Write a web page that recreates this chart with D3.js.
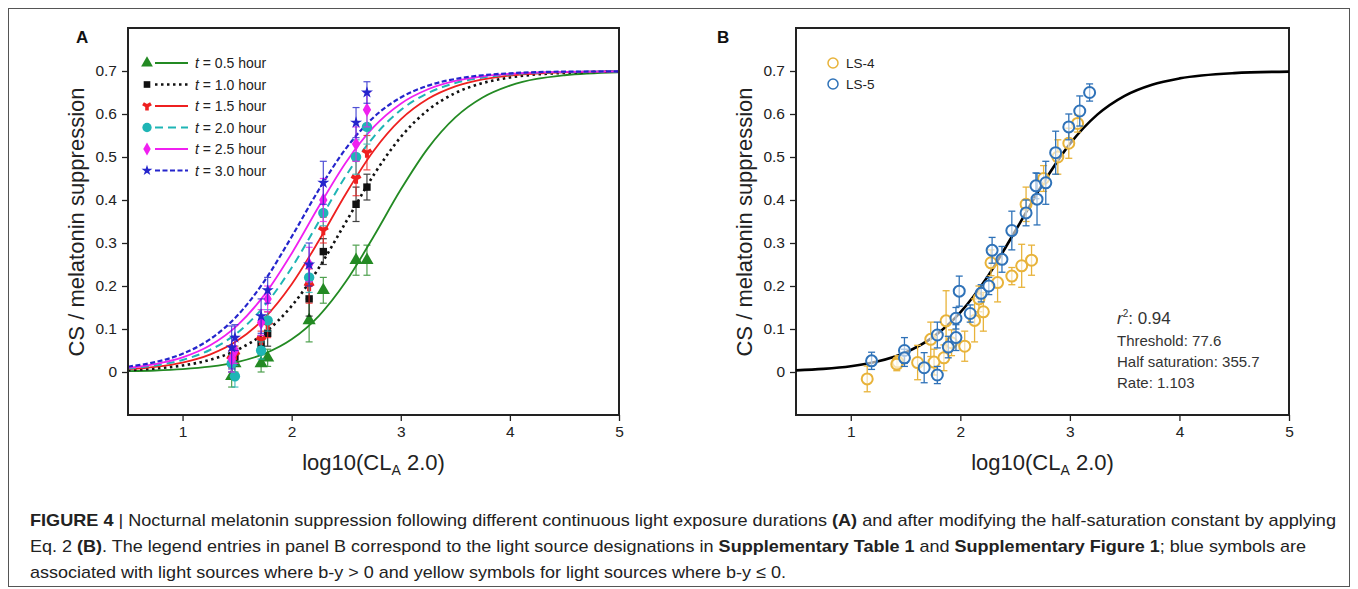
<html>
<head>
<meta charset="utf-8" />
<title>Figure 4 - melatonin suppression</title>
<script src="https://cdn.jsdelivr.net/npm/d3@7"></script>
<style>
  body { margin: 0; background: #fff; }
  text { font-family: "Liberation Sans", Arial, sans-serif; }
  .cap { font-family: "Liberation Sans Narrow", "Arial Narrow", "Liberation Sans", sans-serif; }
</style>
</head>
<body>
<script>

// ---- panel A : data points (same x positions for every exposure duration)
var ptX = [1.45, 1.48, 1.72, 1.78, 2.16, 2.29, 2.59, 2.69];
var durations = ["0.5", "1.0", "1.5", "2.0", "2.5", "3.0"];
var ptY = [
  [-0.01, 0.02, 0.02, 0.033, 0.12, 0.19, 0.26, 0.26],
  [0.02, 0.035, 0.065, 0.09, 0.17, 0.28, 0.39, 0.43],
  [0.03, 0.04, 0.075, 0.11, 0.20, 0.33, 0.45, 0.51],
  [0.02, -0.01, 0.05, 0.12, 0.22, 0.37, 0.50, 0.57],
  [0.03, 0.05, 0.115, 0.17, 0.25, 0.40, 0.53, 0.61],
  [0.057, 0.08, 0.13, 0.19, 0.25, 0.44, 0.58, 0.65]
];
var ptErr = [
  [0.025, 0.02, 0.02, 0.02, 0.05, 0.03, 0.035, 0.035],
  [0.02, 0.02, 0.02, 0.03, 0.04, 0.03, 0.04, 0.03],
  [0.02, 0.02, 0.02, 0.03, 0.04, 0.03, 0.04, 0.04],
  [0.02, 0.025, 0.02, 0.025, 0.035, 0.03, 0.04, 0.04],
  [0.03, 0.03, 0.03, 0.03, 0.04, 0.05, 0.04, 0.04],
  [0.05, 0.03, 0.04, 0.03, 0.05, 0.05, 0.035, 0.025]
];

// ---- fitted curves, read along the x grid
var curveX = [0.5, 0.75, 1, 1.25, 1.5, 1.75, 2, 2.25, 2.5, 2.75, 3, 3.25, 3.5, 3.75, 4, 4.5, 5];
var curveA = [
  [0.002, 0.0035, 0.0067, 0.0125, 0.0231, 0.0424, 0.0759, 0.1306, 0.2114, 0.3146, 0.4243, 0.5207, 0.592, 0.6383, 0.6659, 0.6901, 0.6972],
  [0.0043, 0.0081, 0.0152, 0.0281, 0.0512, 0.0907, 0.1536, 0.2425, 0.35, 0.4575, 0.5464, 0.6093, 0.6488, 0.6719, 0.6848, 0.6957, 0.6988],
  [0.0063, 0.0118, 0.022, 0.0404, 0.0725, 0.1253, 0.204, 0.3058, 0.4159, 0.5139, 0.5873, 0.6353, 0.6642, 0.6805, 0.6895, 0.697, 0.699],
  [0.0081, 0.0152, 0.0281, 0.0512, 0.0907, 0.1536, 0.2425, 0.35, 0.4575, 0.5464, 0.6093, 0.6488, 0.6719, 0.6848, 0.6919, 0.6977, 0.699],
  [0.0099, 0.0185, 0.0341, 0.0617, 0.108, 0.1793, 0.2757, 0.3854, 0.4886, 0.5694, 0.6241, 0.6576, 0.6769, 0.6875, 0.6933, 0.6981, 0.699],
  [0.0125, 0.0231, 0.0424, 0.0759, 0.1306, 0.2114, 0.3146, 0.4243, 0.5207, 0.592, 0.6383, 0.6659, 0.6815, 0.6901, 0.6947, 0.6985, 0.699]
];
var curveB = [0.0038, 0.0072, 0.0134, 0.0248, 0.0454, 0.081, 0.1386, 0.2224, 0.3274, 0.4365, 0.5304, 0.5985, 0.6423, 0.6682, 0.6828, 0.6951, 0.6986];

// ---- panel B : light sources
var ls4X = [1.15, 1.43, 1.42, 1.61, 1.73, 1.76, 1.87, 1.85, 1.92, 2.04, 2.13, 2.21, 2.17, 2.28, 2.34, 2.47, 2.56, 2.65, 2.60, 2.76, 2.89, 2.99, 3.07];
var ls4Y = [-0.016, 0.023, 0.018, 0.022, 0.076, 0.023, 0.119, 0.033, 0.068, 0.06, 0.12, 0.14, 0.17, 0.254, 0.208, 0.223, 0.247, 0.26, 0.39, 0.45, 0.50, 0.532, 0.578];
var ls4E = [0.03, 0.015, 0.015, 0.04, 0.04, 0.03, 0.07, 0.03, 0.03, 0.035, 0.05, 0.045, 0.03, 0.03, 0.045, 0.02, 0.05, 0.035, 0.04, 0.03, 0.04, 0.035, 0.02];
var ls5X = [1.19, 1.49, 1.49, 1.67, 1.79, 1.79, 1.89, 1.96, 1.96, 1.99, 2.09, 2.19, 2.26, 2.29, 2.38, 2.47, 2.60, 2.69, 2.70, 2.78, 2.87, 2.99, 3.09, 3.18];
var ls5Y = [0.026, 0.05, 0.033, 0.01, 0.086, -0.007, 0.058, 0.125, 0.08, 0.188, 0.136, 0.183, 0.20, 0.283, 0.262, 0.329, 0.37, 0.433, 0.402, 0.44, 0.51, 0.57, 0.607, 0.65];
var ls5E = [0.02, 0.03, 0.02, 0.035, 0.03, 0.02, 0.025, 0.025, 0.03, 0.035, 0.02, 0.02, 0.02, 0.03, 0.03, 0.045, 0.03, 0.03, 0.06, 0.05, 0.05, 0.03, 0.035, 0.02];

var xTicks = [1, 2, 3, 4, 5];
var yTicks = [0, 0.1, 0.2, 0.3, 0.4, 0.5, 0.6, 0.7];

var colorsA = ["#238a23", "#111111", "#ee2020", "#1fb5b5", "#f020f0", "#2525cc"];
var dashA = [null, "2.5,3.5", null, "8,5", null, "5,2.5"];
var widthA = [1.8, 2.6, 1.8, 2, 1.8, 2.2];
var symA = [d3.symbolTriangle, d3.symbolSquare, d3.symbolWye, d3.symbolCircle, d3.symbolDiamond, d3.symbolStar];
var sizeA = [75, 55, 55, 85, 60, 45];

var svg = d3.select("body").append("svg")
  .attr("width", 1358).attr("height", 589);

svg.append("rect").attr("x", 8.5).attr("y", 8.5).attr("width", 1341).attr("height", 578)
  .attr("fill", "#fff").attr("stroke", "#555").attr("stroke-width", 1);

var yScale = d3.scaleLinear().domain([-0.1, 0.8]).range([415, 28]);

function makePanel(left, right, letter, letterX) {
  var x = d3.scaleLinear().domain([0.5, 5]).range([left, right]);
  var g = svg.append("g");

  var ax = g.append("g").attr("transform", "translate(0,415)")
    .call(d3.axisBottom(x).tickValues(xTicks).tickFormat(d3.format("d")).tickSize(6).tickSizeOuter(0).tickPadding(5));
  var ay = g.append("g").attr("transform", "translate(" + left + ",0)")
    .call(d3.axisLeft(yScale).tickValues(yTicks).tickFormat(function(d) { return d === 0 ? "0" : d3.format(".1f")(d); }).tickSize(6).tickSizeOuter(0).tickPadding(5));
  [ax, ay].forEach(function(a) {
    a.select(".domain").remove();
    a.selectAll("line").attr("stroke", "#222").attr("stroke-width", 1.3);
    a.selectAll("text").attr("font-size", 15.5).attr("fill", "#222").attr("font-family", "Liberation Sans, Arial, sans-serif");
  });

  g.append("rect").attr("x", left).attr("y", 28).attr("width", right - left).attr("height", 387)
    .attr("fill", "none").attr("stroke", "#222").attr("stroke-width", 2);

  var xl = g.append("text").attr("x", (left + right) / 2).attr("y", 470)
    .attr("text-anchor", "middle").attr("font-size", 22).attr("fill", "#222");
  xl.append("tspan").text("log10(CL");
  xl.append("tspan").attr("font-size", 14).attr("dy", 5).text("A");
  xl.append("tspan").attr("dy", -5).text(" 2.0)");

  g.append("text").attr("transform", "translate(" + (left - 44) + ",222) rotate(-90)")
    .attr("text-anchor", "middle").attr("font-size", 22).attr("fill", "#222")
    .text("CS / melatonin suppression");

  g.append("text").attr("x", letterX).attr("y", 43).attr("font-size", 17)
    .attr("font-weight", "bold").attr("fill", "#111").text(letter);

  return { g: g, x: x };
}

// ---------- panel A
var A = makePanel(128, 619, "A", 76);

var clipA = svg.append("clipPath").attr("id", "clipA");
clipA.append("rect").attr("x", 129).attr("y", 29).attr("width", 489).attr("height", 385);

durations.forEach(function(dur, i) {
  var line = d3.line()
    .x(function(d, j) { return A.x(curveX[j]); })
    .y(function(d) { return yScale(d); })
    .curve(d3.curveMonotoneX);
  A.g.append("path").datum(curveA[i])
    .attr("clip-path", "url(#clipA)")
    .attr("fill", "none").attr("stroke", colorsA[i])
    .attr("stroke-width", widthA[i])
    .attr("stroke-dasharray", dashA[i])
    .attr("d", line);
});

durations.forEach(function(dur, i) {
  var pts = ptX.map(function(xv, j) { return { x: xv, y: ptY[i][j], e: ptErr[i][j] }; });
  var eg = A.g.append("g").attr("stroke", colorsA[i]).attr("stroke-width", 1.2).attr("opacity", 0.8);
  pts.forEach(function(p) {
    var px = A.x(p.x), y1 = yScale(p.y - p.e), y2 = yScale(p.y + p.e);
    eg.append("line").attr("x1", px).attr("x2", px).attr("y1", y1).attr("y2", y2);
    eg.append("line").attr("x1", px - 3.5).attr("x2", px + 3.5).attr("y1", y1).attr("y2", y1);
    eg.append("line").attr("x1", px - 3.5).attr("x2", px + 3.5).attr("y1", y2).attr("y2", y2);
  });
  A.g.append("g").selectAll("path").data(pts).join("path")
    .attr("transform", function(p) { return "translate(" + A.x(p.x) + "," + yScale(p.y) + ")"; })
    .attr("d", d3.symbol().type(symA[i]).size(sizeA[i]))
    .attr("fill", colorsA[i]);
});

// legend A
var legA = A.g.append("g");
durations.forEach(function(dur, i) {
  var ly = 63 + i * 21.5;
  legA.append("line").attr("x1", 155).attr("x2", 188).attr("y1", ly).attr("y2", ly)
    .attr("stroke", colorsA[i]).attr("stroke-width", widthA[i]).attr("stroke-dasharray", dashA[i]);
  legA.append("path").attr("transform", "translate(147," + ly + ")")
    .attr("d", d3.symbol().type(symA[i]).size(sizeA[i] * 0.8)).attr("fill", colorsA[i]);
  var t = legA.append("text").attr("x", 195).attr("y", ly + 5).attr("font-size", 14).attr("fill", "#222");
  t.append("tspan").attr("font-style", "italic").text("t");
  t.append("tspan").text(" = " + dur + " hour");
});

// ---------- panel B
var B = makePanel(796, 1289, "B", 717);

var lineB = d3.line()
  .x(function(d, j) { return B.x(curveX[j]); })
  .y(function(d) { return yScale(d); })
  .curve(d3.curveMonotoneX);
B.g.append("path").datum(curveB).attr("fill", "none").attr("stroke", "#000")
  .attr("stroke-width", 2.6).attr("d", lineB);

function drawSource(xs, ys, es, color) {
  var pts = xs.map(function(xv, j) { return { x: xv, y: ys[j], e: es[j] }; });
  var eg = B.g.append("g").attr("stroke", color).attr("stroke-width", 1.3);
  pts.forEach(function(p) {
    var px = B.x(p.x), y1 = yScale(p.y - p.e), y2 = yScale(p.y + p.e);
    eg.append("line").attr("x1", px).attr("x2", px).attr("y1", y1).attr("y2", y2);
    eg.append("line").attr("x1", px - 3.5).attr("x2", px + 3.5).attr("y1", y1).attr("y2", y1);
    eg.append("line").attr("x1", px - 3.5).attr("x2", px + 3.5).attr("y1", y2).attr("y2", y2);
  });
  B.g.append("g").selectAll("circle").data(pts).join("circle")
    .attr("cx", function(p) { return B.x(p.x); })
    .attr("cy", function(p) { return yScale(p.y); })
    .attr("r", 5.5).attr("fill", "#fff").attr("fill-opacity", 0.6)
    .attr("stroke", color).attr("stroke-width", 2);
}
drawSource(ls4X, ls4Y, ls4E, "#e8b33a");
drawSource(ls5X, ls5Y, ls5E, "#2f72b8");

// legend B
[["LS-4", "#e8b33a"], ["LS-5", "#2f72b8"]].forEach(function(d, i) {
  var ly = 63 + i * 21;
  B.g.append("circle").attr("cx", 833).attr("cy", ly).attr("r", 5)
    .attr("fill", "none").attr("stroke", d[1]).attr("stroke-width", 1.5);
  B.g.append("text").attr("x", 846).attr("y", ly + 5).attr("font-size", 13.5)
    .attr("fill", "#222").text(d[0]);
});

// fit stats
var st = B.g.append("g").attr("fill", "#333");
var r2 = st.append("text").attr("x", 1117).attr("y", 324).attr("font-size", 17);
r2.append("tspan").attr("font-style", "italic").text("r");
r2.append("tspan").attr("font-size", 10).attr("dy", -7).text("2");
r2.append("tspan").attr("dy", 7).text(": 0.94");
["Threshold: 77.6", "Half saturation: 355.7", "Rate: 1.103"].forEach(function(s, i) {
  st.append("text").attr("x", 1117).attr("y", 346 + i * 21).attr("font-size", 15).text(s);
});

// ---------- caption
var capLines = [
  [[["FIGURE 4", 1], [" | Nocturnal melatonin suppression following different continuous light exposure durations ", 0], ["(A)", 1], [" and after modifying the half-saturation constant by applying", 0]], 1306],
  [[["Eq. 2 ", 0], ["(B)", 1], [". The legend entries in panel B correspond to the light source designations in ", 0], ["Supplementary Table 1", 1], [" and ", 0], ["Supplementary Figure 1", 1], ["; blue symbols are", 0]], 1276],
  [[["associated with light sources where b-y > 0 and yellow symbols for light sources where b-y \u2264 0.", 0]], 756]
];
capLines.forEach(function(ln, i) {
  var t = svg.append("text").attr("class", "cap").attr("x", 30).attr("y", 526 + i * 26)
    .attr("font-size", 17).attr("fill", "#222")
    .attr("textLength", ln[1]).attr("lengthAdjust", "spacingAndGlyphs");
  ln[0].forEach(function(seg) {
    t.append("tspan").attr("font-weight", seg[1] ? "bold" : null).text(seg[0]);
  });
});

</script>
</body>
</html>
